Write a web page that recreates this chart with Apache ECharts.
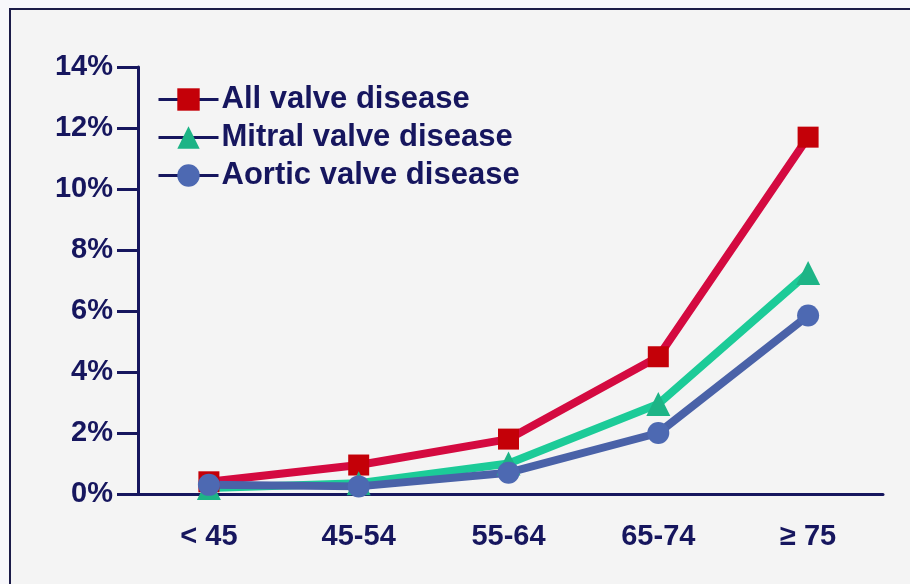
<!DOCTYPE html>
<html>
<head>
<meta charset="utf-8">
<script src="https://cdn.jsdelivr.net/npm/echarts@6/dist/echarts.min.js"></script>
<style>
  html, body { margin: 0; padding: 0; background: #f7f7fb; }
  #chart { width: 910px; height: 584px; }
</style>
</head>
<body>
<div id="chart"></div>
<script>
// Age groups on the x axis
const ageGroups = ['< 45', '45-54', '55-64', '65-74', '≥ 75']

// Prevalence (%)
const allValve = [0.4, 0.95, 1.8, 4.5, 11.7]
const mitralValve = [0.2, 0.35, 1.0, 2.95, 7.25]
const aorticValve = [0.3, 0.25, 0.7, 2.0, 5.85]

const navy = '#16165e'
const font = 'Arial, "Liberation Sans", sans-serif'

const chart = echarts.init(document.getElementById('chart'), null, { renderer: 'canvas' })

const option = {
  animation: false,
  backgroundColor: 'transparent',
  graphic: [{
    type: 'rect',
    z: -10,
    shape: { x: 10, y: 9, width: 1000, height: 700 },
    style: { fill: '#f4f4f4', stroke: '#1b1b48', lineWidth: 2 }
  }],
  legend: {
    orient: 'vertical',
    left: 157,
    top: 84,
    padding: 0,
    itemWidth: 60,
    itemHeight: 28,
    itemGap: 7,
    lineStyle: { color: navy, width: 3 },
    textStyle: { color: navy, fontSize: 31, fontWeight: 'bold', fontFamily: font, padding: [0, 0, 0, -2] }
  },
  grid: { left: 134, right: 27, top: 67, bottom: 90 },
  xAxis: {
    type: 'category',
    data: ageGroups,
    boundaryGap: true,
    axisLine: { lineStyle: { color: navy, width: 3 } },
    axisTick: { alignWithLabel: true, length: 20, lineStyle: { color: navy, width: 3 } },
    axisLabel: { color: navy, fontSize: 29, fontWeight: 'bold', fontFamily: font, margin: 28 },
    splitLine: { show: false }
  },
  yAxis: {
    type: 'value',
    min: 0,
    max: 14,
    interval: 2,
    offset: -4,
    axisLine: { show: true, lineStyle: { color: navy, width: 3 } },
    axisTick: { show: true, length: 21, lineStyle: { color: navy, width: 3 } },
    axisLabel: { color: navy, fontSize: 29, fontWeight: 'bold', fontFamily: font, margin: 25, formatter: '{value}%' },
    splitLine: { show: false }
  },
  series: [
    {
      name: 'All valve disease',
      type: 'line',
      data: allValve,
      symbol: 'rect',
      symbolSize: 21,
      showAllSymbol: true,
      lineStyle: { color: '#d40a40', width: 8 },
      itemStyle: { color: '#c40008' }
    },
    {
      name: 'Mitral valve disease',
      type: 'line',
      data: mitralValve,
      symbol: 'triangle',
      symbolSize: 24,
      showAllSymbol: true,
      lineStyle: { color: '#1ccb98', width: 8 },
      itemStyle: { color: '#1db486' }
    },
    {
      name: 'Aortic valve disease',
      type: 'line',
      data: aorticValve,
      symbol: 'circle',
      symbolSize: 22,
      showAllSymbol: true,
      lineStyle: { color: '#4a62a8', width: 8 },
      itemStyle: { color: '#4d69b2' }
    }
  ]
}

chart.setOption(option)
</script>
</body>
</html>
